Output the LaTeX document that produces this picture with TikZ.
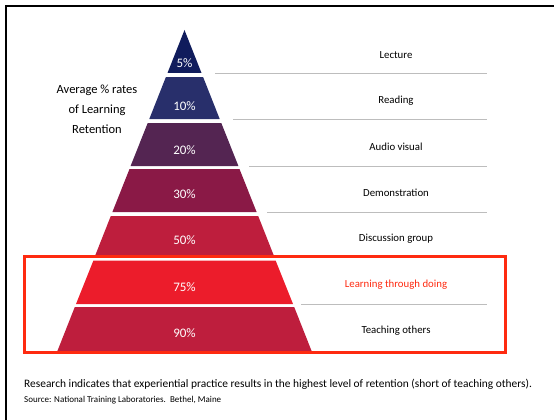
\documentclass[tikz,border=0pt]{standalone}
\usepackage{fontspec}
\setmainfont{Carlito}
\definecolor{navyA}{HTML}{101C5C}
\definecolor{navyB}{HTML}{282F6B}
\definecolor{plum}{HTML}{542552}
\definecolor{wine}{HTML}{8A1946}
\definecolor{crimson}{HTML}{BE1E3D}
\definecolor{brightred}{HTML}{EC1C2B}
\definecolor{boxred}{HTML}{FE2A10}
\definecolor{rulegray}{HTML}{BDBDBD}
\begin{document}
\begin{tikzpicture}[x=1pt,y=-1pt,
  pct/.style={text=white,font=\fontsize{13}{15}\selectfont},
  lbl/.style={font=\fontsize{10.8}{13}\selectfont}]
\useasboundingbox (0,0) rectangle (554,420);
% frame
\draw[line width=2pt] (5.7,420) -- (5.7,5.7) -- (554,5.7);
% pyramid bands
\fill[navyA] (184.5,30) -- (201.5,73) -- (167.5,73) -- cycle;
\fill[navyB] (165.9,77) -- (203.1,77) -- (219.7,119) -- (149.3,119) -- cycle;
\fill[plum] (147.7,123) -- (221.3,123) -- (238.4,166) -- (130.6,166) -- cycle;
\fill[wine] (129.5,169) -- (239.5,169) -- (256.6,212) -- (112.4,212) -- cycle;
\fill[crimson] (110.8,216) -- (258.2,216) -- (274.4,257) -- (94.6,257) -- cycle;
\fill[brightred] (93.4,260.5) -- (275.6,260.5) -- (293,304) -- (76,304) -- cycle;
\fill[crimson] (74.8,307) -- (294.2,307) -- (312,352) -- (57,352) -- cycle;
% rules
\draw[rulegray] (215,73.5) -- (487,73.5);
\draw[rulegray] (233,119.5) -- (487,119.5);
\draw[rulegray] (249,166) -- (487,166);
\draw[rulegray] (267,212.5) -- (487,212.5);
\draw[rulegray] (301,304.5) -- (487,304.5);
% highlight box
\draw[boxred,line width=3pt] (24,256) rectangle (505,352);
% percentages
\node[pct] (p5) at (184.5,63) {5\%};
\node[pct] (p10) at (184.5,106) {10\%};
\node[pct] (p20) at (184.5,150) {20\%};
\node[pct] (p30) at (184.5,194) {30\%};
\node[pct] (p50) at (184.5,240) {50\%};
\node[pct] (p75) at (184.5,287) {75\%};
\node[pct] (p90) at (184.5,333) {90\%};
% methods
\node[lbl] (lecture) at (396,55) {Lecture};
\node[lbl] (reading) at (396,101) {Reading};
\node[lbl] (audio) at (396,147) {Audio visual};
\node[lbl] (demo) at (396,193) {Demonstration};
\node[lbl] (discussion) at (396,239) {Discussion group};
\node[lbl,text=boxred] (doing) at (396,285) {Learning through doing};
\node[lbl] (teaching) at (396,331) {Teaching others};
% side title
\node[align=center,font=\fontsize{12.5}{20}\selectfont] (avg) at (97,109)
  {Average \% rates\\of Learning\\Retention};
% notes
\node[anchor=west,inner sep=0pt,font=\fontsize{11.4}{13}\selectfont] (research) at (24,384)
  {Research indicates that experiential practice results in the highest level of retention (short of teaching others).};
\node[anchor=west,inner sep=0pt,font=\fontsize{9}{10}\selectfont] (source) at (24,400)
  {Source: National Training Laboratories.\ \ Bethel, Maine};
\end{tikzpicture}
\end{document}
